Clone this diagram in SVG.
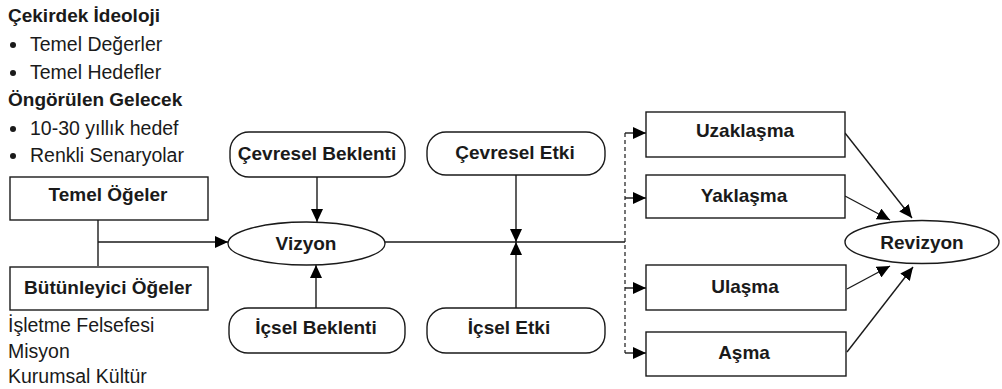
<svg xmlns="http://www.w3.org/2000/svg" width="1002" height="389" viewBox="0 0 1002 389">
  <style>
    .box { fill: #ffffff; stroke: #1a1a1a; stroke-width: 1.4; }
    .lbl { font-family: "Liberation Sans", Arial, sans-serif; font-size: 19px; font-weight: bold; fill: #1a1a1a; text-anchor: middle; }
    .txt { font-family: "Liberation Sans", Arial, sans-serif; font-size: 19.5px; fill: #1a1a1a; }
    .hd { font-family: "Liberation Sans", Arial, sans-serif; font-size: 19px; font-weight: bold; fill: #1a1a1a; }
    .ln { fill: none; stroke: #1a1a1a; stroke-width: 1.4; }
    .dash { fill: none; stroke: #1a1a1a; stroke-width: 1.2; stroke-dasharray: 4 3; }
  </style>
  <defs>
    <marker id="arrow" markerUnits="userSpaceOnUse" markerWidth="14" markerHeight="12" refX="13" refY="6" orient="auto">
      <path d="M0,0 L13,6 L0,12 Z" fill="#000000"/>
    </marker>
  </defs>
  <rect width="1002" height="389" fill="#ffffff"/>

  <!-- Legend text at top left -->
  <g id="ideology-notes">
    <text class="hd" x="8" y="22">Çekirdek İdeoloji</text>
    <circle cx="13" cy="45" r="3" fill="#1a1a1a"/>
    <text class="txt" x="30" y="51">Temel Değerler</text>
    <circle cx="13" cy="73" r="3" fill="#1a1a1a"/>
    <text class="txt" x="30" y="79">Temel Hedefler</text>
    <text class="hd" x="8" y="106">Öngörülen Gelecek</text>
    <circle cx="13" cy="129" r="3" fill="#1a1a1a"/>
    <text class="txt" x="30" y="135">10-30 yıllık hedef</text>
    <circle cx="13" cy="156" r="3" fill="#1a1a1a"/>
    <text class="txt" x="30" y="162">Renkli Senaryolar</text>
  </g>

  <!-- Connectors -->
  <g id="connectors">
    <path class="ln" d="M98,220 V266"/>
    <path class="ln" d="M98,242 H228" marker-end="url(#arrow)"/>
    <path class="ln" d="M317,177 V222" marker-end="url(#arrow)"/>
    <path class="ln" d="M316,308 V265" marker-end="url(#arrow)"/>
    <path class="ln" d="M385,242 H625"/>
    <path class="ln" d="M516,175 V242" marker-end="url(#arrow)"/>
    <path class="ln" d="M516,308 V242" marker-end="url(#arrow)"/>
    <path class="dash" d="M625,133 V353"/>
    <path class="ln" d="M625,133 H646" marker-end="url(#arrow)"/>
    <path class="ln" d="M625,198 H646" marker-end="url(#arrow)"/>
    <path class="ln" d="M625,288 H646" marker-end="url(#arrow)"/>
    <path class="ln" d="M625,353 H646" marker-end="url(#arrow)"/>
    <path class="ln" d="M845,133 L912,218" marker-end="url(#arrow)"/>
    <path class="ln" d="M845,196 L890,220" marker-end="url(#arrow)"/>
    <path class="ln" d="M847,289 L890,266" marker-end="url(#arrow)"/>
    <path class="ln" d="M847,352 L913,267" marker-end="url(#arrow)"/>
  </g>

  <g id="temel-ogeler">
    <rect class="box" x="10" y="177" width="198" height="43"/>
    <text class="lbl" x="108" y="201">Temel Öğeler</text>
  </g>

  <g id="butunleyici-ogeler">
    <rect class="box" x="10" y="267" width="198" height="43"/>
    <text class="lbl" x="108" y="294">Bütünleyici Öğeler</text>
    <text class="txt" x="8" y="332">İşletme Felsefesi</text>
    <text class="txt" x="8" y="358">Misyon</text>
    <text class="txt" x="8" y="383">Kurumsal Kültür</text>
  </g>

  <g id="vizyon">
    <ellipse class="box" cx="306.5" cy="243.5" rx="78.5" ry="21.5"/>
    <text class="lbl" x="306" y="250">Vizyon</text>
  </g>

  <g id="cevresel-beklenti">
    <rect class="box" x="230" y="132" width="175" height="45" rx="19" ry="19"/>
    <text class="lbl" x="317" y="160">Çevresel Beklenti</text>
  </g>

  <g id="icsel-beklenti">
    <rect class="box" x="229" y="308" width="176" height="45" rx="19" ry="19"/>
    <text class="lbl" x="316" y="334">İçsel Beklenti</text>
  </g>

  <g id="cevresel-etki">
    <rect class="box" x="427" y="132" width="178" height="43" rx="19" ry="19"/>
    <text class="lbl" x="515" y="159">Çevresel Etki</text>
  </g>

  <g id="icsel-etki">
    <rect class="box" x="427" y="308" width="178" height="45" rx="19" ry="19"/>
    <text class="lbl" x="509" y="334">İçsel Etki</text>
  </g>

  <g id="uzaklasma">
    <rect class="box" x="646" y="112" width="199" height="45"/>
    <text class="lbl" x="745" y="137">Uzaklaşma</text>
  </g>

  <g id="yaklasma">
    <rect class="box" x="646" y="175" width="199" height="43"/>
    <text class="lbl" x="744" y="202">Yaklaşma</text>
  </g>

  <g id="ulasma">
    <rect class="box" x="646" y="265" width="200" height="45"/>
    <text class="lbl" x="745" y="293">Ulaşma</text>
  </g>

  <g id="asma">
    <rect class="box" x="646" y="332" width="200" height="44"/>
    <text class="lbl" x="744" y="359">Aşma</text>
  </g>

  <g id="revizyon">
    <ellipse class="box" cx="922" cy="242" rx="77" ry="21.5"/>
    <text class="lbl" x="922" y="249">Revizyon</text>
  </g>
</svg>
